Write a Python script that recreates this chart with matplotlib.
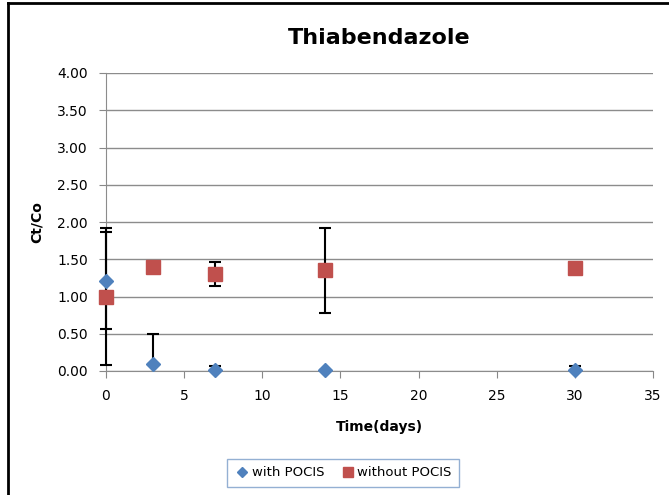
import matplotlib.pyplot as plt
from matplotlib.lines import Line2D

plt.switch_backend("Agg")

# Data
days = [0, 3, 7, 14, 30]
with_pocis = [1.21, 0.10, 0.02, 0.02, 0.02]
with_pocis_err = [0.65, 0.40, 0.05, 0.0, 0.05]
without_pocis = [1.00, 1.39, 1.30, 1.355, 1.38]
without_pocis_err = [0.925, 0.0, 0.165, 0.57, 0.0]

BLUE = "#4F81BD"
RED = "#C0504D"


def clipped_err(values, errs):
    """Lower bar is dropped where it would go below the axis (y=0)."""
    lower = [e if e <= v else 0.0 for v, e in zip(values, errs)]
    return [lower, errs]


fig = plt.figure(figsize=(6.69, 4.95), dpi=100)
ax = fig.add_axes([106 / 669, 1 - 371 / 495, 547 / 669, 298 / 495])

# Error bars first, markers on top
for vals, errs in [(with_pocis, with_pocis_err), (without_pocis, without_pocis_err)]:
    ax.errorbar(days, vals, yerr=clipped_err(vals, errs), fmt="none", ecolor="black",
                elinewidth=1.5, capsize=4, capthick=1.5, zorder=3, clip_on=False)

ax.plot(days, with_pocis, linestyle="none", marker="D", markersize=7,
        color=BLUE, label="with POCIS", zorder=4, clip_on=False)
ax.plot(days, without_pocis, linestyle="none", marker="s", markersize=10,
        color=RED, label="without POCIS", zorder=4, clip_on=False)

ax.set_xlim(0, 35)
ax.set_ylim(0, 4)
ax.set_xticks(range(0, 36, 5))
ax.set_yticks([i * 0.5 for i in range(9)])
ax.set_yticklabels([f"{i * 0.5:.2f}" for i in range(9)])
ax.tick_params(axis="both", colors="#888888", labelcolor="black", labelsize=10,
               length=5, direction="out")
ax.tick_params(axis="y", pad=8)
ax.tick_params(axis="x", pad=8)

ax.grid(axis="y", color="#8c8c8c", linewidth=1)
ax.set_axisbelow(True)
for side in ["top", "right"]:
    ax.spines[side].set_visible(False)
for side in ["left", "bottom"]:
    ax.spines[side].set_color("#8c8c8c")

ax.set_title("Thiabendazole", fontsize=16, fontweight="bold", pad=21)
ax.set_ylabel("Ct/Co", fontsize=10, fontweight="bold", labelpad=10)
ax.set_xlabel("Time(days)", fontsize=10, fontweight="bold", labelpad=12)

leg = fig.legend(loc="center", bbox_to_anchor=(343 / 669, 1 - 473 / 495), ncol=2,
                 fontsize=9.5, frameon=True, fancybox=False, handletextpad=0.1,
                 handlelength=1.2, columnspacing=1.2, borderpad=0.6, markerscale=0.7)
leg.get_frame().set_edgecolor("#7a9cc8")
leg.get_frame().set_linewidth(1)

# Chart-area border (left and top edges visible)
fig.add_artist(Line2D([8 / 669, 8 / 669], [0, 1 - 3 / 495], transform=fig.transFigure,
                      color="black", linewidth=2))
fig.add_artist(Line2D([8 / 669, 1], [1 - 3 / 495, 1 - 3 / 495], transform=fig.transFigure,
                      color="black", linewidth=2))

fig.savefig("out.png", dpi=100)
